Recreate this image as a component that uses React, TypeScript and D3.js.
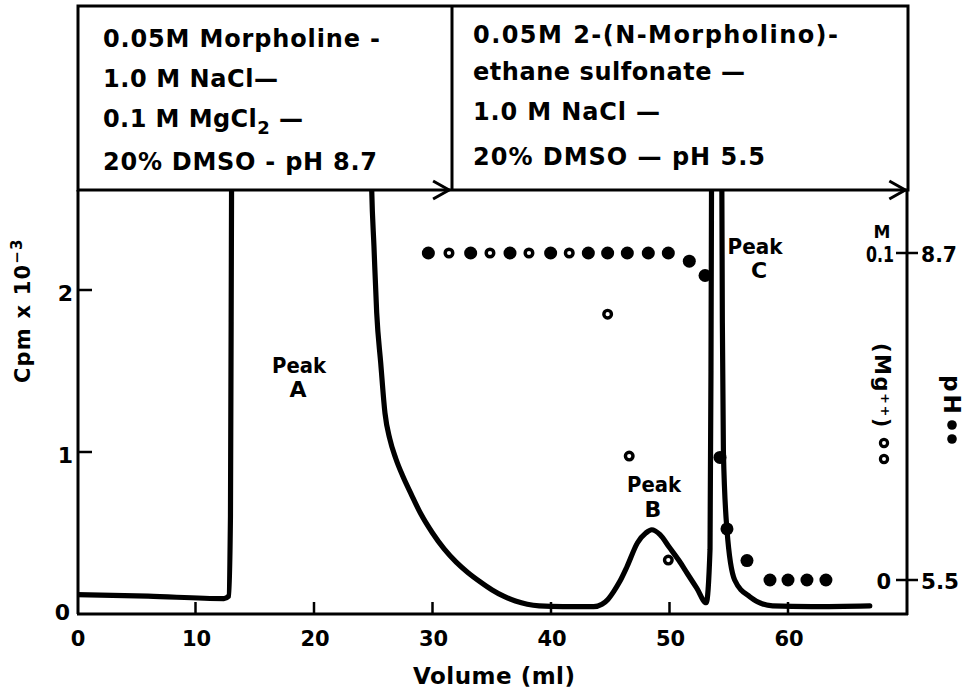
import React from 'react';
import * as d3 from 'd3';

// ---------- data ----------
const volumeTicks = [0, 10, 20, 30, 40, 50, 60];
const cpmTicks = [0, 1, 2];

// radioactivity profile (Cpm x 10^-3) vs volume (ml)
const cpmVolume = [0, 6, 12.4, 12.8, 12.95, 13.05, 13.25, 19, 24.6, 24.87, 25.06, 25.29, 25.63, 25.99, 26.4, 26.9, 27.5, 28.2, 29, 30, 31, 32, 33, 34, 35, 36, 37, 38, 39, 41, 43.6, 44.3, 44.8, 45.3, 45.8, 46.4, 47.3, 48.0, 48.5, 49.2, 50.0, 50.8, 51.5, 52.3, 53.1, 53.42, 53.5, 53.56, 54.0, 54.4, 54.46, 54.55, 54.85, 55.5, 56.8, 58.7, 62, 66.9];
const cpmValue = [0.12, 0.11, 0.095, 0.11, 0.6, 2.8, 4.5, 6, 4.0, 2.62, 2.27, 1.86, 1.55, 1.24, 1.08, 0.96, 0.85, 0.74, 0.62, 0.5, 0.4, 0.32, 0.255, 0.2, 0.15, 0.11, 0.08, 0.06, 0.05, 0.045, 0.045, 0.06, 0.09, 0.14, 0.2, 0.29, 0.44, 0.5, 0.52, 0.49, 0.41, 0.33, 0.25, 0.16, 0.07, 0.4, 1.5, 3.0, 12.0, 3.0, 1.8, 1.0, 0.52, 0.21, 0.105, 0.05, 0.045, 0.05];

// pH (filled circles)
const pHVolume = [29.65, 33.22, 36.54, 39.97, 43.15, 44.78, 46.44, 48.21, 49.9, 51.67, 53.0, 54.26, 54.85, 56.54, 58.48, 60.0, 61.6, 63.2];
const pHValue = [8.7, 8.7, 8.7, 8.7, 8.7, 8.7, 8.7, 8.7, 8.7, 8.62, 8.48, 6.7, 6.0, 5.69, 5.5, 5.5, 5.5, 5.5];

// Mg++ (open circles), M
const mgVolume = [31.39, 34.85, 38.14, 41.54, 44.78, 46.6, 49.9];
const mgValue = [0.1, 0.1, 0.1, 0.1, 0.0813, 0.0379, 0.0061];

const leftBufferLines = ['0.05M Morpholine -', '1.0 M NaCl—', '0.1 M MgCl', '20% DMSO - pH 8.7'];
const rightBufferLines = ['0.05M 2-(N-Morpholino)-', 'ethane sulfonate —', '1.0 M NaCl —', '20% DMSO — pH 5.5'];
const bufferChangeVolumes = [31.4, 69.9];

const FONT = "'DejaVu Sans', 'Liberation Sans', Arial, sans-serif";

export default function App() {
  const left = 77, right = 908, top = 190, bottom = 614;
  const x = d3.scaleLinear().domain([0, (right - left) / 11.85]).range([left, right]);
  const y = d3.scaleLinear().domain([0, (bottom - top) / 162]).range([bottom, top]);
  const yPH = d3.scaleLinear().domain([5.5, 8.7]).range([580, 253]);
  const yMg = d3.scaleLinear().domain([0, 0.1]).range([580, 253]);

  const pts: [number, number][] = cpmVolume.map((v, i) => [v, cpmValue[i]]);
  const line = d3.line<[number, number]>()
    .x(d => x(d[0]))
    .y(d => y(d[1]))
    .curve(d3.curveMonotoneX);

  const leftY = [47, 87, 127, 170];
  const leftW = [277, 175, 200, 274];
  const rightY = [43, 80, 120, 165];
  const rightW = [365, 272, 187, 292];

  return (
    <svg width={968} height={691} style={{ position: 'absolute', left: 0, top: 0, background: '#fff' }}
      fontFamily={FONT} fontWeight="bold">
      <defs>
        <clipPath id="plotClip">
          <rect x={left} y={top} width={right - left} height={bottom - top + 10} />
        </clipPath>
      </defs>

      {/* buffer boxes */}
      <rect x={78} y={6} width={right - 78} height={top - 6} fill="none" stroke="#000" strokeWidth={3} />
      <line x1={452} x2={452} y1={6} y2={top} stroke="#000" strokeWidth={3} />
      {bufferChangeVolumes.map((v, i) => (
        <polyline key={i}
          points={`${x(v) - 16},${top - 9} ${x(v)},${top} ${x(v) - 16},${top + 9}`}
          fill="none" stroke="#000" strokeWidth={3} strokeLinejoin="miter" />
      ))}
      {leftBufferLines.map((t, i) => (
        <text key={'l' + i} x={103} y={leftY[i]} fontSize={24} textLength={leftW[i]} lengthAdjust="spacing">
          {i === 2 ? (<>
            {t}<tspan dy={7} fontSize={18}>2</tspan><tspan dy={-7}> —</tspan>
          </>) : t}
        </text>
      ))}
      {rightBufferLines.map((t, i) => (
        <text key={'r' + i} x={473} y={rightY[i]} fontSize={24} textLength={rightW[i]} lengthAdjust="spacing">{t}</text>
      ))}

      {/* plot frame */}
      <line x1={left + 1} x2={left + 1} y1={top} y2={bottom} stroke="#000" strokeWidth={3} />
      <line x1={left} x2={right} y1={bottom} y2={bottom} stroke="#000" strokeWidth={3} />
      <line x1={right - 1} x2={right - 1} y1={top} y2={bottom + 1} stroke="#000" strokeWidth={3} />

      {/* x ticks */}
      {volumeTicks.map(v => (
        <g key={'xt' + v}>
          {v > 0 && <line x1={x(v)} x2={x(v)} y1={bottom} y2={bottom - 12} stroke="#000" strokeWidth={2.5} />}
          <text x={x(v) + 1} y={646} fontSize={21} textAnchor="middle">{v}</text>
        </g>
      ))}
      <text x={494} y={684} fontSize={23} textAnchor="middle" textLength={162} lengthAdjust="spacing">Volume (ml)</text>

      {/* y ticks */}
      {cpmTicks.map(v => (
        <g key={'yt' + v}>
          {v > 0 && <line x1={left} x2={left + 15} y1={y(v)} y2={y(v)} stroke="#000" strokeWidth={2.5} />}
          <text x={v === 0 ? 70 : 73} y={y(v) + (v === 0 ? 6 : 11)} fontSize={22} textAnchor="end">{v}</text>
        </g>
      ))}
      <text transform="translate(30,383) rotate(-90)" fontSize={21} letterSpacing={1.2}>
        Cpm x 10<tspan dy={-8} fontSize={15}>−3</tspan>
      </text>

      {/* right axis */}
      <line x1={896} x2={918} y1={yPH(8.7)} y2={yPH(8.7)} stroke="#000" strokeWidth={2.5} />
      <line x1={896} x2={918} y1={yPH(5.5)} y2={yPH(5.5)} stroke="#000" strokeWidth={2.5} />
      <text x={882} y={238} fontSize={17} textAnchor="middle">M</text>
      <text x={894} y={yMg(0.1) + 9} fontSize={21} textAnchor="end" textLength={28} lengthAdjust="spacingAndGlyphs">0.1</text>
      <text x={921} y={yPH(8.7) + 9} fontSize={21} textLength={36} lengthAdjust="spacingAndGlyphs">8.7</text>
      <text x={891} y={yMg(0) + 9} fontSize={21} textAnchor="end">0</text>
      <text x={921} y={yPH(5.5) + 9} fontSize={21} textLength={38} lengthAdjust="spacingAndGlyphs">5.5</text>
      <text transform="translate(875,343) rotate(90)" fontSize={21} letterSpacing={1.5}>
        (Mg<tspan dy={-6} fontSize={13}>++</tspan><tspan dy={6}>)</tspan>
      </text>
      <circle cx={884} cy={443} r={3.6} fill="#fff" stroke="#000" strokeWidth={3.2} />
      <circle cx={884} cy={459} r={3.6} fill="#fff" stroke="#000" strokeWidth={3.2} />
      <text transform="translate(944,375) rotate(90)" fontSize={23} letterSpacing={3}>pH</text>
      <circle cx={952} cy={425} r={4.8} fill="#000" />
      <circle cx={952} cy={439} r={4.8} fill="#000" />

      {/* curve */}
      <g clipPath="url(#plotClip)">
        <path d={line(pts) || ''} fill="none" stroke="#000" strokeWidth={5.2} strokeLinejoin="round" strokeLinecap="round" />
      </g>

      {/* pH points */}
      {pHVolume.map((v, i) => (
        <circle key={'ph' + i} cx={x(v)} cy={yPH(pHValue[i])} r={6.5} fill="#000" />
      ))}
      {/* Mg points */}
      {mgVolume.map((v, i) => (
        <circle key={'mg' + i} cx={x(v)} cy={yMg(mgValue[i])} r={3.8} fill="#fff" stroke="#000" strokeWidth={3.4} />
      ))}

      {/* peak labels */}
      <text x={299} y={373} fontSize={21} textAnchor="middle" textLength={54} lengthAdjust="spacingAndGlyphs">Peak</text>
      <text x={298} y={397} fontSize={22} textAnchor="middle">A</text>
      <text x={654} y={492} fontSize={21} textAnchor="middle" textLength={54} lengthAdjust="spacingAndGlyphs">Peak</text>
      <text x={653} y={517} fontSize={22} textAnchor="middle">B</text>
      <text x={755} y={254} fontSize={21} textAnchor="middle" textLength={55} lengthAdjust="spacingAndGlyphs">Peak</text>
      <text x={759} y={278} fontSize={22} textAnchor="middle">C</text>
    </svg>
  );
}
